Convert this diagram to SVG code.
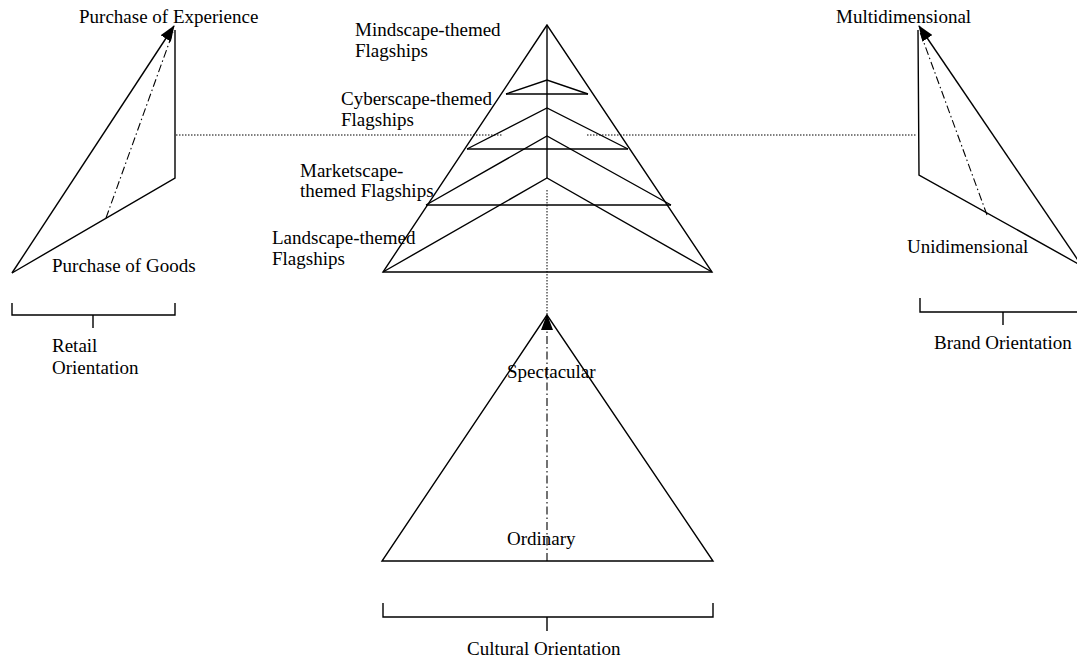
<svg xmlns="http://www.w3.org/2000/svg" width="1077" height="659" viewBox="0 0 1077 659">
<style>
.ln{stroke:#000;stroke-width:1.4;fill:none}
.dd{stroke:#000;stroke-width:1.1;fill:none;stroke-dasharray:8 3 1.5 3}
.dt{stroke:#000;stroke-width:1;fill:none;stroke-dasharray:1.5 1.5}
text{font-family:"Liberation Serif","Times New Roman",serif;font-size:19px;fill:#000}
</style>
<defs>
<marker id="ah" markerWidth="16" markerHeight="12" refX="15" refY="6" orient="auto" markerUnits="userSpaceOnUse">
<path d="M0,0 L16,6 L0,12 Z" fill="#000"/>
</marker>
</defs>
<rect width="1077" height="659" fill="#fff"/>
<g id="connectors">
<line class="dt" x1="176" y1="135" x2="503" y2="135"/>
<line class="dt" x1="587" y1="135" x2="917" y2="135"/>
<line class="dt" x1="547" y1="190" x2="547" y2="315"/>
</g>
<g id="retail">
<line class="ln" x1="12" y1="273" x2="174" y2="26" marker-end="url(#ah)"/>
<polyline class="ln" points="175,30 175,178 12,273"/>
<line class="dd" x1="106" y1="218" x2="173" y2="32"/>
<path class="ln" d="M12,303 V315 H175 V303 M93,315 V328"/>
<text x="79" y="23">Purchase of Experience</text>
<text x="52" y="272">Purchase of Goods</text>
<text x="52" y="352">Retail</text>
<text x="52" y="374">Orientation</text>
</g>
<g id="brand">
<line class="ln" x1="1082" y1="266" x2="919" y2="26" marker-end="url(#ah)"/>
<polyline class="ln" points="918,30 919,175 1082,266"/>
<line class="dd" x1="987" y1="215" x2="920" y2="32"/>
<path class="ln" d="M920,298 V312 H1077 M1003,312 V325"/>
<text x="836" y="23">Multidimensional</text>
<text x="907" y="253">Unidimensional</text>
<text x="934" y="349">Brand Orientation</text>
</g>
<g id="flagship-pyramid">
<polygon class="ln" points="547,25 383,272 712,272"/>
<line class="ln" x1="547" y1="25" x2="547" y2="178"/>
<polyline class="ln" points="506,94 547,80 588,94"/>
<line class="ln" x1="506" y1="94" x2="588" y2="94"/>
<polyline class="ln" points="467,149 547,108 628,149"/>
<line class="ln" x1="467" y1="149" x2="628" y2="149"/>
<polyline class="ln" points="426,205 547,136 671,205"/>
<line class="ln" x1="426" y1="205" x2="671" y2="205"/>
<polyline class="ln" points="383,272 547,178 712,272"/>
<text x="355" y="36">Mindscape-themed</text>
<text x="355" y="57">Flagships</text>
<text x="341" y="105">Cyberscape-themed</text>
<text x="341" y="126">Flagships</text>
<text x="300" y="177">Marketscape-</text>
<text x="300" y="197">themed Flagships</text>
<text x="272" y="244">Landscape-themed</text>
<text x="272" y="265">Flagships</text>
</g>
<g id="cultural">
<polygon class="ln" points="547,315 382,561 713,561"/>
<line class="dd" x1="547" y1="561" x2="547" y2="315" marker-end="url(#ah)"/>
<path class="ln" d="M383,603 V617 H713 V603 M547,617 V631"/>
<text x="507" y="378">Spectacular</text>
<text x="507" y="545">Ordinary</text>
<text x="467" y="655">Cultural Orientation</text>
</g>
</svg>
